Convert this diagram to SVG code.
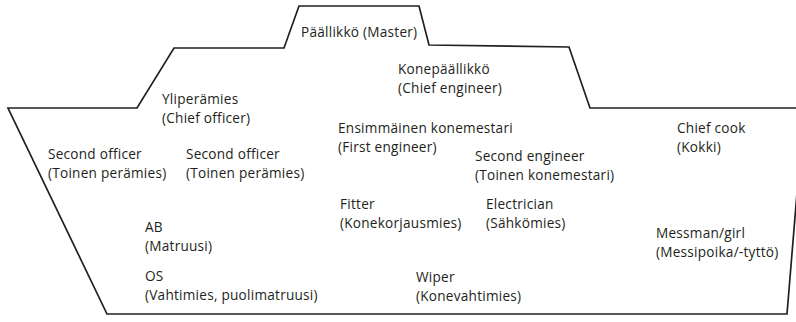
<svg xmlns="http://www.w3.org/2000/svg" width="796" height="322" viewBox="0 0 796 322">
  <style>
    .hull { fill: none; stroke: #231f20; stroke-width: 1.7; stroke-linejoin: miter; }
    .lbl { font-family: "Open Sans", "Liberation Sans", sans-serif; font-size: 13.6px; letter-spacing: 0.25px; fill: #231f20; }
  </style>
  <rect width="796" height="322" fill="#ffffff"/>
  <!-- ship outline: deckhouse steps on top, raked bow and stern -->
  <g id="connectors">
    <path class="hull" d="M 804 108 L 590 108 L 569 47 L 429 45 L 419 6 L 299 6 L 284 48 L 174 48 L 137 108 L 8 108 L 107 314 L 787 314 L 804 108"/>
  </g>
  <!-- crew positions, each a two-line label (English / Finnish) -->
  <g id="master"><text class="lbl" x="301" y="37">Päällikkö (Master)</text></g>
  <g id="chief-engineer"><text class="lbl" x="398" y="74">Konepäällikkö<tspan x="398" dy="18.6">(Chief engineer)</tspan></text></g>
  <g id="chief-officer"><text class="lbl" x="162" y="104">Yliperämies<tspan x="162" dy="18.6">(Chief officer)</tspan></text></g>
  <g id="first-engineer"><text class="lbl" x="338" y="133">Ensimmäinen konemestari<tspan x="338" dy="18.6">(First engineer)</tspan></text></g>
  <g id="second-officer-1"><text class="lbl" x="48" y="159">Second officer<tspan x="48" dy="18.6">(Toinen perämies)</tspan></text></g>
  <g id="second-officer-2"><text class="lbl" x="186" y="159">Second officer<tspan x="186" dy="18.6">(Toinen perämies)</tspan></text></g>
  <g id="second-engineer"><text class="lbl" x="475" y="161">Second engineer<tspan x="475" dy="18.6">(Toinen konemestari)</tspan></text></g>
  <g id="chief-cook"><text class="lbl" x="677" y="133">Chief cook<tspan x="677" dy="18.6">(Kokki)</tspan></text></g>
  <g id="fitter"><text class="lbl" x="340" y="209">Fitter<tspan x="340" dy="18.6">(Konekorjausmies)</tspan></text></g>
  <g id="electrician"><text class="lbl" x="486" y="209">Electrician<tspan x="486" dy="18.6">(Sähkömies)</tspan></text></g>
  <g id="ab"><text class="lbl" x="145" y="232">AB<tspan x="145" dy="18.6">(Matruusi)</tspan></text></g>
  <g id="messman"><text class="lbl" x="656" y="238">Messman/girl<tspan x="656" dy="18.6">(Messipoika/-tyttö)</tspan></text></g>
  <g id="os"><text class="lbl" x="145" y="281">OS<tspan x="145" dy="19">(Vahtimies, puolimatruusi)</tspan></text></g>
  <g id="wiper"><text class="lbl" x="416" y="282">Wiper<tspan x="416" dy="18.6">(Konevahtimies)</tspan></text></g>
</svg>
